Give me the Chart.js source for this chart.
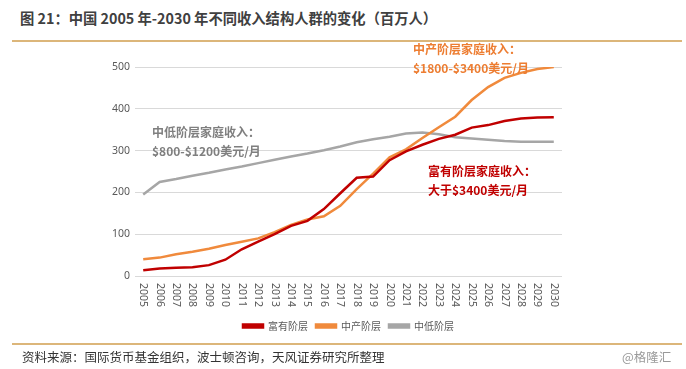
<!DOCTYPE html>
<html>
<head>
<meta charset="utf-8">
<script src="https://cdn.jsdelivr.net/npm/chart.js@4.4.0/dist/chart.umd.min.js"></script>
<style>
  html, body { margin: 0; padding: 0; background: #fff; }
  body { width: 686px; height: 369px; position: relative; overflow: hidden; font-family: "Noto Sans CJK SC", "Noto Sans", sans-serif; }
  #wrap { position: absolute; left: 0; top: 0; width: 686px; height: 369px; }
  .t { position: absolute; white-space: nowrap; }
  .rule { position: absolute; left: 12px; width: 670px; height: 1.5px; background: #dcb67a; }
  .note { position: absolute; white-space: nowrap; font-weight: bold; font-size: 12px; line-height: 19px; }
</style>
</head>
<body>
<div class="t" style="left:20px; top:7px; font-size:14.3px; font-weight:bold; color:#404040;">图 21：中国 2005 年-2030 年不同收入结构人群的变化（百万人）</div>
<div class="rule" style="top:40px;"></div>
<div id="wrap"><canvas id="chart" width="686" height="369"></canvas></div>
<div class="note" style="left:152px; top:122px; color:#7f7f7f;">中低阶层家庭收入：<br>$800-$1200美元/月</div>
<div class="note" style="left:413px; top:39px; color:#ed7d31;">中产阶层家庭收入：<br>$1800-$3400美元/月</div>
<div class="note" style="left:428px; top:161px; color:#c00000;">富有阶层家庭收入：<br>大于$3400美元/月</div>
<div class="rule" style="top:343px;"></div>
<div class="t" style="left:22px; top:347px; font-size:12.5px; color:#333;">资料来源：国际货币基金组织，波士顿咨询，天风证券研究所整理</div>
<div class="t" style="left:622px; top:347px; font-size:12.5px; color:#999;">@格隆汇</div>
<script>
// years 2005-2030, millions of people
const years = ['2005','2006','2007','2008','2009','2010','2011','2012','2013','2014','2015','2016','2017',
  '2018','2019','2020','2021','2022','2023','2024','2025','2026','2027','2028','2029','2030'];
const rich = [14, 18, 20, 21, 26, 39, 64, 82, 100, 120, 132, 160, 198,
  235, 238, 277, 298, 314, 328, 338, 355, 361, 371, 377, 379, 380];
const middle = [40, 44, 52, 58, 65, 74, 82, 90, 105, 122, 135, 143, 168,
  208, 245, 284, 303, 330, 356, 381, 421, 452, 474, 486, 495, 500];
const lowerMiddle = [195, 225, 232, 240, 247, 255, 262, 270, 278, 286, 293, 301, 310,
  320, 327, 333, 341, 343, 339, 332, 329, 326, 323, 321, 321, 321];
const seriesNames = ['富有阶层', '中产阶层', '中低阶层'];
const yTicks = [0, 100, 200, 300, 400, 500];

const axisColor = '#595959';

// x labels read top-to-bottom, which Chart.js can't rotate to, so draw them here
const verticalXLabels = {
    id: 'verticalXLabels',
    afterDraw(chart) {
        const xs = chart.scales.x;
        const ctx = chart.ctx;
        ctx.save();
        ctx.font = '10.5px "Noto Sans", "DejaVu Sans", sans-serif';
        ctx.fillStyle = axisColor;
        ctx.textAlign = 'left';
        ctx.textBaseline = 'middle';
        xs.ticks.forEach((t, i) => {
            const x = xs.getPixelForTick(i);
            ctx.save();
            ctx.translate(x, chart.chartArea.bottom + 7);
            ctx.rotate(Math.PI / 2);
            ctx.fillText(years[i], 0, 0);
            ctx.restore();
        });
        ctx.restore();
    }
};

const mkSet = (label, data, color) => ({
    label, data, borderColor: color, backgroundColor: color,
    borderWidth: 2.5, pointRadius: 0, tension: 0, fill: false
});

new Chart(document.getElementById('chart'), {
    type: 'line',
    data: {
        labels: years,
        datasets: [
            mkSet(seriesNames[0], rich, '#c00000'),
            mkSet(seriesNames[1], middle, '#f08a3c'),
            mkSet(seriesNames[2], lowerMiddle, '#a6a6a6')
        ]
    },
    options: {
        responsive: false, animation: false,
        layout: { padding: { left: 0, right: 124, top: 67, bottom: 28 } },
        scales: {
            x: {
                type: 'category', offset: true,
                grid: { display: false }, border: { display: false },
                ticks: { display: false },
                afterFit: s => { s.height = 37; }
            },
            y: {
                min: 0, max: 500,
                afterBuildTicks: s => { s.ticks = yTicks.map(v => ({ value: v })); },
                grid: { color: '#d9d9d9', drawTicks: false, lineWidth: 1 },
                border: { display: false },
                ticks: { color: axisColor, padding: 5, font: { size: 10.5, family: '"Noto Sans", "DejaVu Sans", sans-serif' } },
                afterFit: s => { s.width = 135; }
            }
        },
        plugins: {
            legend: {
                position: 'bottom', fullSize: false,
                labels: { boxWidth: 20, boxHeight: 3, padding: 8, color: axisColor, font: { size: 10, family: '"Noto Sans CJK SC", sans-serif' } }
            },
            tooltip: { enabled: false }
        }
    },
    plugins: [verticalXLabels]
});
</script>
</body>
</html>
